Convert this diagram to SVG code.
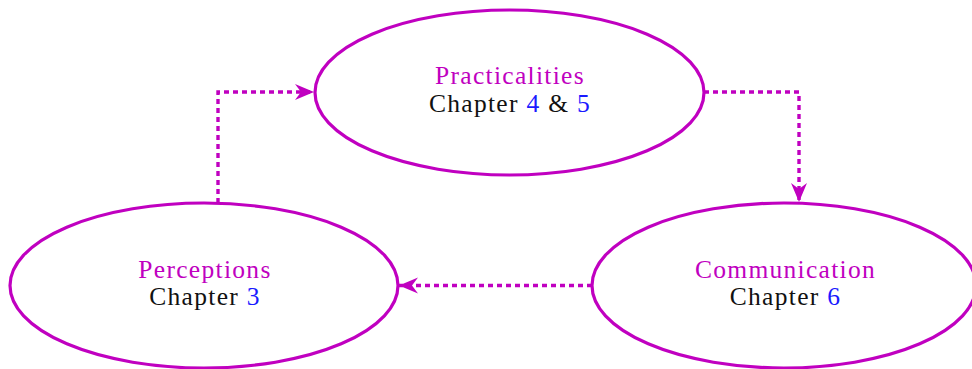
<svg xmlns="http://www.w3.org/2000/svg" width="972" height="369" viewBox="0 0 972 369">
<defs>
<marker id="ah" viewBox="0 0 20 18" refX="19" refY="9" markerWidth="20" markerHeight="18" markerUnits="userSpaceOnUse" orient="auto">
<path d="M0,1 L19,9 L0,17 L6,9 Z" fill="#C000C0"/>
</marker>
<style>
.node ellipse{fill:none;stroke:#C000C0;stroke-width:3.2}
.t{font-family:"Liberation Serif","DejaVu Serif",serif;font-size:25.5px;letter-spacing:1.3px;text-anchor:middle}
.m{fill:#C000C0}
.k{fill:#111}
.b{fill:#1a1aff}
.c{fill:none;stroke:#C000C0;stroke-width:3.4;stroke-dasharray:5 4}
</style>
</defs>
<g id="connectors">
<path class="c" d="M218,203 V92 H314" marker-end="url(#ah)"/>
<path class="c" d="M704,92 H799 V202" marker-end="url(#ah)"/>
<path class="c" d="M592,285.5 H399" marker-end="url(#ah)"/>
</g>
<g id="practicalities" class="node">
<ellipse cx="509.5" cy="92.5" rx="194.5" ry="82.5"/>
<text class="t m" x="510" y="84">Practicalities</text>
<text class="t k" x="510" y="111.5">Chapter <tspan class="b">4</tspan> &amp; <tspan class="b">5</tspan></text>
</g>
<g id="perceptions" class="node">
<ellipse cx="204" cy="285.5" rx="194" ry="82.5"/>
<text class="t m" x="205" y="277.5">Perceptions</text>
<text class="t k" x="205" y="305">Chapter <tspan class="b">3</tspan></text>
</g>
<g id="communication" class="node">
<ellipse cx="784" cy="285.5" rx="192" ry="82.5"/>
<text class="t m" x="785.5" y="277.5">Communication</text>
<text class="t k" x="785.5" y="305">Chapter <tspan class="b">6</tspan></text>
</g>
</svg>
